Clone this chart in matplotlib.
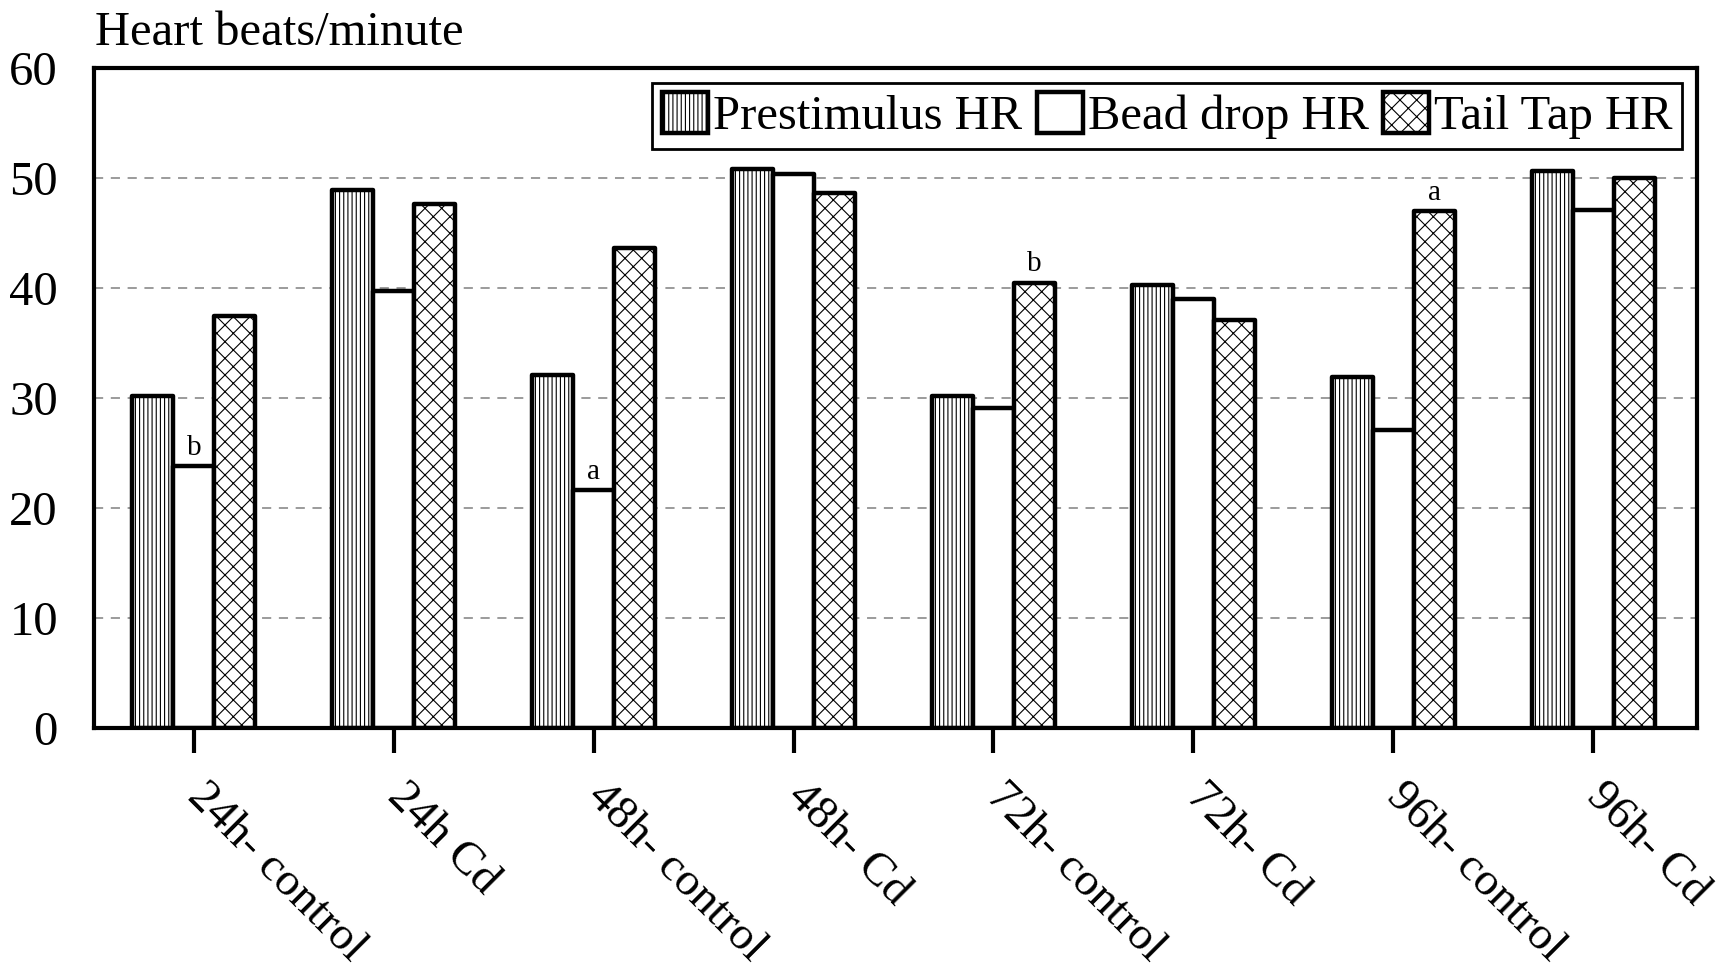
import matplotlib
matplotlib.use('Agg')
import matplotlib.pyplot as plt
import numpy as np

plt.rcParams['font.family'] = ['Liberation Serif', 'DejaVu Serif']
plt.rcParams['hatch.linewidth'] = 0.8

groups = ['24h- control', '24h Cd', '48h- control', '48h- Cd',
          '72h- control', '72h- Cd', '96h- control', '96h- Cd']
prestimulus = [30.2, 48.9, 32.1, 50.8, 30.2, 40.3, 31.9, 50.6]
bead_drop = [23.8, 39.7, 21.6, 50.4, 29.1, 39.0, 27.1, 47.1]
tail_tap = [37.5, 47.6, 43.6, 48.6, 40.5, 37.1, 47.0, 50.0]
series_names = ['Prestimulus HR', 'Bead drop HR', 'Tail Tap HR']
# (group index, series index, letter)
marks = [(0, 1, 'b'), (2, 1, 'a'), (4, 2, 'b'), (6, 2, 'a')]

fig = plt.figure(figsize=(17.26, 9.71), dpi=100)
ax = fig.add_axes([94/1726, 1 - 728/971, (1697 - 94)/1726, (728 - 68)/971])

x = np.arange(len(groups))
w = 0.205
series = [prestimulus, bead_drop, tail_tap]
hatches = ['||||', None, 'xx']
for k, vals in enumerate(series):
    ax.bar(x + (k - 1)*w, vals, w, color='white', edgecolor='black',
           linewidth=3.2, hatch=hatches[k], label=series_names[k],
           joinstyle='round', zorder=2)

for g, s, letter in marks:
    ax.text(x[g] + (s - 1)*w, series[s][g] + 0.5, letter, ha='center',
            va='bottom', fontsize=21)

ax.set_xlim(-0.5, 7.52)
ax.set_ylim(0, 60)
ax.set_yticks(np.arange(0, 61, 10))
ax.set_xticks(x)
ax.set_xticklabels(groups, rotation=-45, ha='left', va='center',
                   rotation_mode='anchor', fontsize=34)
ax.tick_params(axis='x', length=18, width=3, direction='out', pad=27)
ax.tick_params(axis='y', length=0, pad=26, labelsize=35)
ax.yaxis.grid(True, linestyle=(0, (6, 5)), color='#808080', linewidth=1.1)
ax.set_axisbelow(True)
for sp in ax.spines.values():
    sp.set_linewidth(3)

leg = ax.legend(loc='upper right', ncol=3, fontsize=35, frameon=True,
                fancybox=False, edgecolor='black', handlelength=0.95,
                handleheight=0.9, handletextpad=0.1, columnspacing=0.3,
                borderpad=0.2, borderaxespad=0.3)
leg.get_frame().set_linewidth(2)
leg.get_frame().set_alpha(1)
for h in leg.legend_handles:
    h.set_linewidth(3.2)

fig.text(95/1726, 1 - 45/971, 'Heart beats/minute', fontsize=35,
         ha='left', va='baseline')

fig.savefig('out.png', dpi=100)
